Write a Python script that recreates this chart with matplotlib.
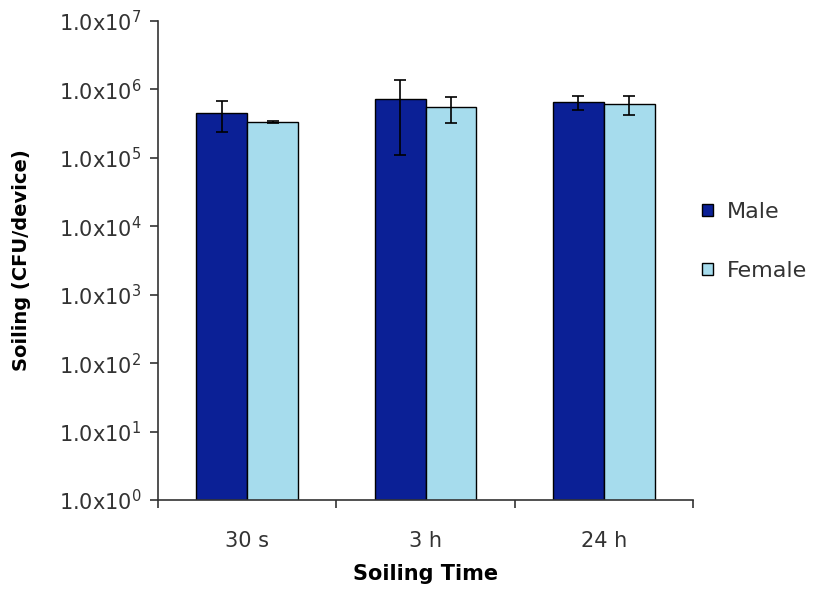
import numpy as np
import matplotlib.pyplot as plt

# soiling counts (CFU/device)
categories = ['30 s', '3 h', '24 h']
male = [4.6e5, 7.35e5, 6.5e5]
male_err = [2.2e5, 6.25e5, 1.5e5]
female = [3.3e5, 5.5e5, 6.2e5]
female_err = [1.0e4, 2.25e5, 1.9e5]
ytick_exp = [0, 1, 2, 3, 4, 5, 6, 7]

male_color = '#0b2096'
female_color = '#a6dced'
text_color = '#333333'

plt.rcParams['font.family'] = ['DejaVu Sans']

fig = plt.figure(figsize=(8.19, 5.93), dpi=100)
ax = fig.add_axes([0.1929, 0.1568, 0.6533, 0.8078])

x = np.arange(len(categories))
w = 0.285
err_kw = dict(ecolor='black', elinewidth=1.2, capsize=4, capthick=1.2)
ax.bar(x - w / 2, male, w, color=male_color, edgecolor='black', linewidth=1,
       yerr=male_err, error_kw=err_kw, label='Male')
ax.bar(x + w / 2, female, w, color=female_color, edgecolor='black', linewidth=1,
       yerr=female_err, error_kw=err_kw, label='Female')

ax.set_yscale('log')
ax.set_ylim(1, 1e7)
ax.set_xlim(-0.5, len(categories) - 0.5)
ax.set_yticks([10.0 ** e for e in ytick_exp])
ax.set_yticklabels([r'1.0x10$^{%d}$' % e for e in ytick_exp], fontsize=15, color=text_color)
ax.yaxis.set_minor_locator(plt.NullLocator())

# x ticks on the category boundaries, labels at centres
ax.set_xticks(np.arange(len(categories) + 1) - 0.5)
ax.set_xticklabels([])
ax.set_xticks(x, minor=True)
ax.set_xticklabels(categories, minor=True, fontsize=15, color=text_color)
ax.tick_params(axis='x', which='minor', length=0, pad=22)
ax.tick_params(axis='x', which='major', length=6, width=1.2, color='#333333')
ax.tick_params(axis='y', length=6, width=1.2, color='#333333', pad=6)

for s in ['top', 'right']:
    ax.spines[s].set_visible(False)
for s in ['left', 'bottom']:
    ax.spines[s].set_linewidth(1.2)
    ax.spines[s].set_color('#333333')

ax.set_xlabel('Soiling Time', fontsize=15, fontweight='bold', labelpad=10, color='black')
ax.set_ylabel('Soiling (CFU/device)', fontsize=14, fontweight='bold', labelpad=20, color='black')

leg = ax.legend(loc='center left', bbox_to_anchor=(0.98, 0.54), frameon=False,
                fontsize=16, handlelength=0.5, handleheight=0.5, labelspacing=1.75,
                handletextpad=0.6)
for t in leg.get_texts():
    t.set_color(text_color)

fig.savefig('out.png', dpi=100)
